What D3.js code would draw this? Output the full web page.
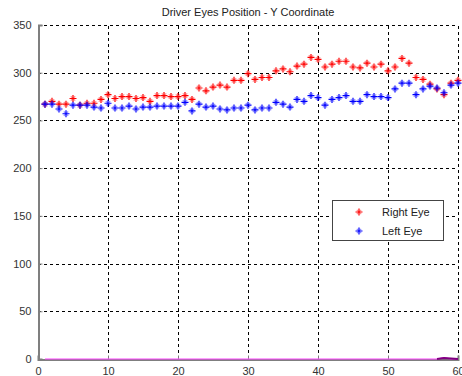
<!DOCTYPE html>
<html>
<head>
<meta charset="utf-8">
<script src="https://cdn.jsdelivr.net/npm/d3@7"></script>
<style>
  body { margin: 0; background: #fff; }
  text { font-family: "Liberation Sans", Arial, sans-serif; }
</style>
</head>
<body>
<svg id="chart" width="462" height="376"></svg>
<script>
// frame index 1..60
var frames = d3.range(1, 61);

var rightEye = [267, 270, 267, 267, 273, 266, 268, 268, 272, 277,
  273, 275, 275, 273, 274, 270, 276, 276, 275, 275,
  276, 272, 284, 281, 285, 287, 285, 292, 292, 299,
  293, 295, 295, 302, 304, 301, 307, 309, 316, 314,
  306, 309, 312, 312, 306, 305, 310, 306, 309, 302,
  306, 315, 310, 295, 293, 288, 283, 277, 289, 292];

var leftEye = [267, 267, 262, 257, 266, 266, 266, 264, 263, 268,
  263, 263, 265, 262, 264, 264, 265, 265, 265, 265,
  269, 260, 267, 264, 265, 262, 261, 263, 263, 266,
  261, 263, 263, 269, 267, 264, 272, 270, 276, 274,
  266, 272, 274, 276, 270, 270, 277, 275, 275, 274,
  283, 289, 289, 277, 283, 286, 284, 279, 287, 289];

// third trace lying on the x axis
var baseline = [0, 0, 0, 0, 0, 0, 0, 0, 0, 0,
  0, 0, 0, 0, 0, 0, 0, 0, 0, 0,
  0, 0, 0, 0, 0, 0, 0, 0, 0, 0,
  0, 0, 0, 0, 0, 0, 0, 0, 0, 0,
  0, 0, 0, 0, 0, 0, 0, 0, 0, 0,
  0, 0, 0, 0, 0, 0, 0, 1.5, 0, 0];
var darkFrames = [57, 58, 59, 60];
var darkVals = [0, 1, 0.5, 0];

var xTicks = [0, 10, 20, 30, 40, 50, 60];
var yTicks = [0, 50, 100, 150, 200, 250, 300, 350];
var legendNames = ["Right Eye", "Left Eye"];
var colors = ["#ff0000", "#0000ff"];

var svg = d3.select("#chart");
var x = d3.scaleLinear().domain([0, 60]).range([38, 458]);
var y = d3.scaleLinear().domain([0, 350]).range([359, 25]);

// grid
var grid = svg.append("g")
  .attr("stroke", "#000")
  .attr("stroke-width", 1)
  .attr("stroke-dasharray", "3,3");
grid.selectAll("line.v").data(xTicks.slice(1)).enter().append("line")
  .attr("x1", d => Math.round(x(d)) + 0.5).attr("x2", d => Math.round(x(d)) + 0.5)
  .attr("y1", y(0)).attr("y2", y(350));
grid.selectAll("line.h").data(yTicks.slice(1)).enter().append("line")
  .attr("y1", d => Math.round(y(d)) + 0.5).attr("y2", d => Math.round(y(d)) + 0.5)
  .attr("x1", x(0)).attr("x2", x(60));

// axes
var xAxis = svg.append("g")
  .attr("transform", `translate(0,${Math.round(y(0)) + 0.5})`)
  .call(d3.axisBottom(x).tickValues(xTicks).tickSize(-4).tickPadding(8));
var yAxis = svg.append("g")
  .attr("transform", `translate(${Math.round(x(0)) + 0.5},0)`)
  .call(d3.axisLeft(y).tickValues(yTicks).tickSize(-4).tickPadding(7));
[xAxis, yAxis].forEach(function (g) {
  g.select(".domain").attr("stroke", "#7f7f7f").attr("stroke-width", 2);
  g.selectAll(".tick line").attr("stroke", "#7f7f7f");
  g.selectAll(".tick text").attr("fill", "#333").attr("font-size", 11)
    .attr("font-family", "Liberation Sans, Arial, sans-serif");
});

// trace on x axis
svg.append("path")
  .datum(frames)
  .attr("fill", "none")
  .attr("stroke", "#ff40ff")
  .attr("stroke-width", 1.2)
  .attr("d", d3.line().x(d => x(d)).y((d, i) => y(baseline[i])));
svg.append("path")
  .datum(darkFrames)
  .attr("fill", "none")
  .attr("stroke", "#800080")
  .attr("stroke-width", 2)
  .attr("d", d3.line().x(d => x(d)).y((d, i) => y(darkVals[i])));

function star(g, cx, cy, color) {
  var r = 3.5, q = 2.2;
  g.append("path")
    .attr("d", `M${cx - r},${cy}H${cx + r}M${cx},${cy - r}V${cy + r}`)
    .attr("stroke", color)
    .attr("stroke-width", 1.2)
    .attr("fill", "none");
  g.append("path")
    .attr("d", `M${cx - q},${cy - q}L${cx + q},${cy + q}M${cx - q},${cy + q}L${cx + q},${cy - q}`)
    .attr("stroke", color)
    .attr("stroke-opacity", 0.45)
    .attr("stroke-width", 1.2)
    .attr("fill", "none");
}

var marks = svg.append("g");
[rightEye, leftEye].forEach(function (series, k) {
  series.forEach(function (v, i) {
    star(marks, x(frames[i]), y(v), colors[k]);
  });
});

// title
svg.append("text")
  .attr("x", 248).attr("y", 16)
  .attr("text-anchor", "middle")
  .attr("font-size", 11)
  .attr("fill", "#222")
  .text("Driver Eyes Position - Y Coordinate");

// legend
var lg = svg.append("g").attr("transform", "translate(332,200)");
lg.append("rect").attr("x", 0.5).attr("y", 0.5).attr("width", 111).attr("height", 40)
  .attr("fill", "#fff").attr("stroke", "#444");
legendNames.forEach(function (name, k) {
  star(lg, 27, 12 + k * 19, colors[k]);
  lg.append("text").attr("x", 50).attr("y", 16 + k * 19)
    .attr("font-size", 11).attr("fill", "#222").text(name);
});
</script>
</body>
</html>
